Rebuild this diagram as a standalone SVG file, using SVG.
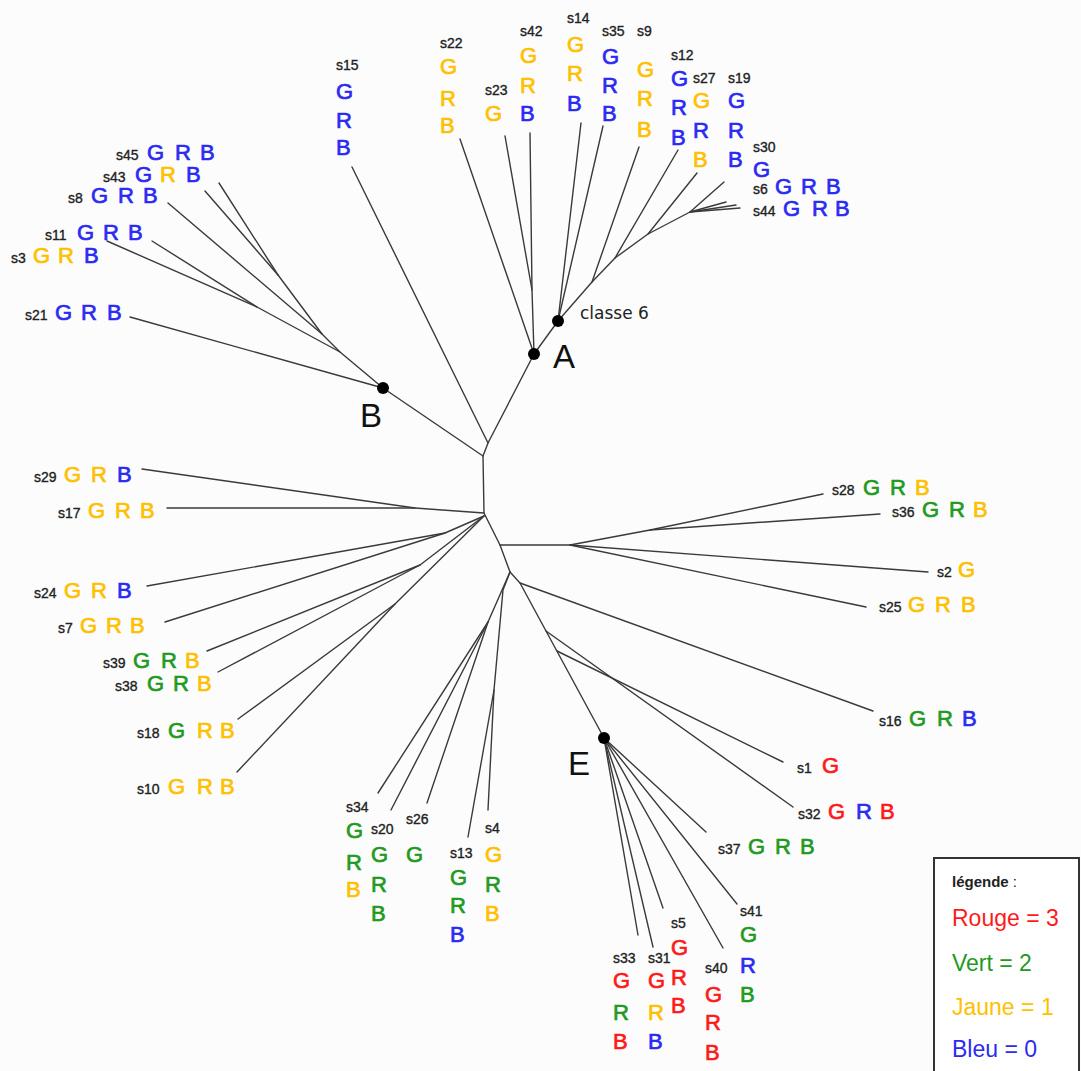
<svg xmlns="http://www.w3.org/2000/svg" width="1081" height="1071" viewBox="0 0 1081 1071">
<style>
.bg{fill:#fcfcfc}
.e{stroke:#3a3a3a;stroke-width:1.4;fill:none;stroke-linecap:round;stroke-linejoin:round}
.s{font-family:"Liberation Sans",Arial,sans-serif;font-size:14px;fill:#222;stroke:#222;stroke-width:0.35}
.L{font-family:"Liberation Sans",Arial,sans-serif;font-size:22px;stroke-width:0.7}
.b{fill:#2a2af2}.y{fill:#ffc000}.g{fill:#1f9a1f}.r{fill:#ff1a1a}
.L .b{stroke:#2a2af2}.L .y{stroke:#ffc000}.L .g{stroke:#1f9a1f}.L .r{stroke:#ff1a1a}
.big{font-family:"Liberation Sans",Arial,sans-serif;font-size:33px;fill:#111}
.dot{fill:#000}
.lg{font-family:"Liberation Sans",Arial,sans-serif;font-size:23px}
</style>
<rect class="bg" x="0" y="0" width="1081" height="1071"/>
<g id="connectors" class="e">
<polyline points="534,354 488,443 483,456 484,513 500,545 510,572 520,583 604,738"/>
<line x1="488" y1="443" x2="352" y2="167"/>
<line x1="483" y1="456" x2="383" y2="388"/>
<line x1="383" y1="388" x2="130" y2="317"/>
<polyline points="383,388 340,352 322,334 168,203"/>
<polyline points="322,334 278,275 205,191"/>
<line x1="278" y1="275" x2="219" y2="183"/>
<polyline points="340,352 257,307 107,241"/>
<line x1="257" y1="307" x2="152" y2="241"/>
<line x1="534" y1="354" x2="460" y2="139"/>
<polyline points="534,354 532,290 505,136"/>
<line x1="532" y1="290" x2="530" y2="133"/>
<line x1="534" y1="354" x2="558" y2="321"/>
<line x1="558" y1="321" x2="581" y2="123"/>
<line x1="558" y1="321" x2="603" y2="126"/>
<polyline points="558,321 592,282 639,147"/>
<polyline points="592,282 615,258 678,150"/>
<polyline points="615,258 648,234 697,173"/>
<polyline points="648,234 690,212 724,182"/>
<line x1="690" y1="212" x2="726" y2="202"/>
<line x1="690" y1="212" x2="736" y2="205"/>
<line x1="690" y1="212" x2="740" y2="208"/>
<polyline points="484,513 415,508 167,508"/>
<line x1="415" y1="508" x2="142" y2="469"/>
<polyline points="484,516 445,533 147,586"/>
<line x1="445" y1="533" x2="165" y2="622"/>
<polyline points="484,516 420,565 207,651"/>
<line x1="420" y1="565" x2="218" y2="672"/>
<polyline points="484,516 395,604 238,719"/>
<line x1="395" y1="604" x2="237" y2="772"/>
<polyline points="500,545 570,545 650,530 823,494"/>
<line x1="650" y1="530" x2="880" y2="514"/>
<line x1="570" y1="545" x2="928" y2="572"/>
<line x1="570" y1="545" x2="866" y2="607"/>
<line x1="520" y1="583" x2="873" y2="711"/>
<polyline points="510,572 488,622 378,793"/>
<line x1="488" y1="622" x2="391" y2="810"/>
<line x1="488" y1="622" x2="427" y2="803"/>
<polyline points="510,572 503,590 494,690 468,837"/>
<line x1="494" y1="690" x2="488" y2="810"/>
<line x1="557" y1="651" x2="783" y2="762"/>
<line x1="546" y1="631" x2="793" y2="807"/>
<line x1="604" y1="738" x2="706" y2="832"/>
<line x1="604" y1="738" x2="737" y2="904"/>
<line x1="604" y1="738" x2="723" y2="948"/>
<line x1="604" y1="738" x2="663" y2="908"/>
<line x1="604" y1="738" x2="653" y2="947"/>
<line x1="604" y1="738" x2="638" y2="935"/>
</g>
<g id="nodeA"><circle class="dot" cx="534" cy="354" r="6"/><text class="big" x="553" y="368">A</text></g>
<g id="nodeC6"><circle class="dot" cx="558" cy="321" r="6"/><text x="580" y="319" style="font-family:'DejaVu Sans',sans-serif;font-size:17px;fill:#222">classe 6</text></g>
<g id="nodeB"><circle class="dot" cx="383" cy="388" r="6"/><text class="big" x="360" y="427">B</text></g>
<g id="nodeE"><circle class="dot" cx="604" cy="738" r="6"/><text class="big" x="568" y="775">E</text></g>

<g id="s45"><text class="s" x="116" y="160">s45</text><text class="L" y="160"><tspan class="b" x="147">G</tspan><tspan class="b" x="175">R</tspan><tspan class="b" x="200">B</tspan></text></g>
<g id="s43"><text class="s" x="103" y="182">s43</text><text class="L" y="182"><tspan class="b" x="135">G</tspan><tspan class="y" x="160">R</tspan><tspan class="b" x="186">B</tspan></text></g>
<g id="s8"><text class="s" x="68" y="203">s8</text><text class="L" y="203"><tspan class="b" x="91">G</tspan><tspan class="b" x="118">R</tspan><tspan class="b" x="143">B</tspan></text></g>
<g id="s11"><text class="s" x="45" y="240">s11</text><text class="L" y="240"><tspan class="b" x="77">G</tspan><tspan class="b" x="103">R</tspan><tspan class="b" x="128">B</tspan></text></g>
<g id="s3"><text class="s" x="11" y="263">s3</text><text class="L" y="263"><tspan class="y" x="33">G</tspan><tspan class="y" x="58">R</tspan><tspan class="b" x="84">B</tspan></text></g>
<g id="s21"><text class="s" x="25" y="320">s21</text><text class="L" y="320"><tspan class="b" x="55">G</tspan><tspan class="b" x="81">R</tspan><tspan class="b" x="107">B</tspan></text></g>
<g id="s6"><text class="s" x="753" y="194">s6</text><text class="L" y="194"><tspan class="b" x="775">G</tspan><tspan class="b" x="801">R</tspan><tspan class="b" x="826">B</tspan></text></g>
<g id="s44"><text class="s" x="753" y="216">s44</text><text class="L" y="216"><tspan class="b" x="783">G</tspan><tspan class="b" x="812">R</tspan><tspan class="b" x="835">B</tspan></text></g>
<g id="s29"><text class="s" x="34" y="482">s29</text><text class="L" y="482"><tspan class="y" x="64">G</tspan><tspan class="y" x="91">R</tspan><tspan class="b" x="117">B</tspan></text></g>
<g id="s17"><text class="s" x="58" y="518">s17</text><text class="L" y="518"><tspan class="y" x="88">G</tspan><tspan class="y" x="115">R</tspan><tspan class="y" x="140">B</tspan></text></g>
<g id="s24"><text class="s" x="34" y="598">s24</text><text class="L" y="598"><tspan class="y" x="64">G</tspan><tspan class="y" x="91">R</tspan><tspan class="b" x="117">B</tspan></text></g>
<g id="s7"><text class="s" x="58" y="633">s7</text><text class="L" y="633"><tspan class="y" x="80">G</tspan><tspan class="y" x="106">R</tspan><tspan class="y" x="130">B</tspan></text></g>
<g id="s39"><text class="s" x="103" y="668">s39</text><text class="L" y="668"><tspan class="g" x="133">G</tspan><tspan class="g" x="161">R</tspan><tspan class="y" x="185">B</tspan></text></g>
<g id="s38"><text class="s" x="115" y="691">s38</text><text class="L" y="691"><tspan class="g" x="147">G</tspan><tspan class="g" x="173">R</tspan><tspan class="y" x="197">B</tspan></text></g>
<g id="s18"><text class="s" x="137" y="738">s18</text><text class="L" y="738"><tspan class="g" x="168">G</tspan><tspan class="y" x="197">R</tspan><tspan class="y" x="220">B</tspan></text></g>
<g id="s10"><text class="s" x="137" y="794">s10</text><text class="L" y="794"><tspan class="y" x="168">G</tspan><tspan class="y" x="197">R</tspan><tspan class="y" x="220">B</tspan></text></g>
<g id="s28"><text class="s" x="832" y="495">s28</text><text class="L" y="495"><tspan class="g" x="863">G</tspan><tspan class="g" x="890">R</tspan><tspan class="y" x="915">B</tspan></text></g>
<g id="s36"><text class="s" x="892" y="517">s36</text><text class="L" y="517"><tspan class="g" x="922">G</tspan><tspan class="g" x="949">R</tspan><tspan class="y" x="973">B</tspan></text></g>
<g id="s2"><text class="s" x="937" y="577">s2</text><text class="L" y="577"><tspan class="y" x="958">G</tspan></text></g>
<g id="s25"><text class="s" x="879" y="612">s25</text><text class="L" y="612"><tspan class="y" x="908">G</tspan><tspan class="y" x="935">R</tspan><tspan class="y" x="961">B</tspan></text></g>
<g id="s16"><text class="s" x="879" y="726">s16</text><text class="L" y="726"><tspan class="g" x="909">G</tspan><tspan class="g" x="937">R</tspan><tspan class="b" x="962">B</tspan></text></g>
<g id="s1"><text class="s" x="797" y="773">s1</text><text class="L" y="773"><tspan class="r" x="822">G</tspan></text></g>
<g id="s32"><text class="s" x="798" y="819">s32</text><text class="L" y="819"><tspan class="r" x="828">G</tspan><tspan class="b" x="856">R</tspan><tspan class="r" x="880">B</tspan></text></g>
<g id="s37"><text class="s" x="718" y="854">s37</text><text class="L" y="854"><tspan class="g" x="748">G</tspan><tspan class="g" x="775">R</tspan><tspan class="g" x="800">B</tspan></text></g>

<g id="s15"><text class="s" x="336" y="70">s15</text><text class="L"><tspan class="b" x="336" y="99">G</tspan><tspan class="b" x="336" y="128">R</tspan><tspan class="b" x="336" y="155">B</tspan></text></g>
<g id="s22"><text class="s" x="440" y="48">s22</text><text class="L"><tspan class="y" x="440" y="74">G</tspan><tspan class="y" x="440" y="106">R</tspan><tspan class="y" x="440" y="133">B</tspan></text></g>
<g id="s23"><text class="s" x="485" y="95">s23</text><text class="L"><tspan class="y" x="485" y="121">G</tspan></text></g>
<g id="s42"><text class="s" x="520" y="36">s42</text><text class="L"><tspan class="y" x="520" y="63">G</tspan><tspan class="y" x="520" y="93">R</tspan><tspan class="b" x="520" y="121">B</tspan></text></g>
<g id="s14"><text class="s" x="567" y="23">s14</text><text class="L"><tspan class="y" x="567" y="52">G</tspan><tspan class="y" x="567" y="81">R</tspan><tspan class="b" x="567" y="111">B</tspan></text></g>
<g id="s35"><text class="s" x="602" y="36">s35</text><text class="L"><tspan class="b" x="602" y="64">G</tspan><tspan class="b" x="602" y="93">R</tspan><tspan class="b" x="602" y="121">B</tspan></text></g>
<g id="s9"><text class="s" x="637" y="36">s9</text><text class="L"><tspan class="y" x="637" y="77">G</tspan><tspan class="y" x="637" y="106">R</tspan><tspan class="y" x="637" y="137">B</tspan></text></g>
<g id="s12"><text class="s" x="671" y="60">s12</text><text class="L"><tspan class="b" x="671" y="86">G</tspan><tspan class="b" x="671" y="115">R</tspan><tspan class="b" x="671" y="145">B</tspan></text></g>
<g id="s27"><text class="s" x="693" y="83">s27</text><text class="L"><tspan class="y" x="693" y="108">G</tspan><tspan class="b" x="693" y="138">R</tspan><tspan class="y" x="693" y="167">B</tspan></text></g>
<g id="s19"><text class="s" x="728" y="83">s19</text><text class="L"><tspan class="b" x="728" y="108">G</tspan><tspan class="b" x="728" y="138">R</tspan><tspan class="b" x="728" y="167">B</tspan></text></g>
<g id="s30"><text class="s" x="753" y="152">s30</text><text class="L"><tspan class="b" x="753" y="177">G</tspan></text></g>
<g id="s34"><text class="s" x="346" y="812">s34</text><text class="L"><tspan class="g" x="346" y="838">G</tspan><tspan class="g" x="346" y="870">R</tspan><tspan class="y" x="346" y="897">B</tspan></text></g>
<g id="s20"><text class="s" x="371" y="834">s20</text><text class="L"><tspan class="g" x="371" y="862">G</tspan><tspan class="g" x="371" y="892">R</tspan><tspan class="g" x="371" y="921">B</tspan></text></g>
<g id="s26"><text class="s" x="406" y="824">s26</text><text class="L"><tspan class="g" x="406" y="862">G</tspan></text></g>
<g id="s13"><text class="s" x="450" y="858">s13</text><text class="L"><tspan class="g" x="450" y="885">G</tspan><tspan class="g" x="450" y="913">R</tspan><tspan class="b" x="450" y="942">B</tspan></text></g>
<g id="s4"><text class="s" x="485" y="833">s4</text><text class="L"><tspan class="y" x="485" y="862">G</tspan><tspan class="g" x="485" y="892">R</tspan><tspan class="y" x="485" y="921">B</tspan></text></g>
<g id="s33"><text class="s" x="613" y="963">s33</text><text class="L"><tspan class="r" x="613" y="988">G</tspan><tspan class="g" x="613" y="1020">R</tspan><tspan class="r" x="613" y="1049">B</tspan></text></g>
<g id="s31"><text class="s" x="648" y="963">s31</text><text class="L"><tspan class="r" x="648" y="988">G</tspan><tspan class="y" x="648" y="1020">R</tspan><tspan class="b" x="648" y="1049">B</tspan></text></g>
<g id="s5"><text class="s" x="671" y="928">s5</text><text class="L"><tspan class="r" x="671" y="955">G</tspan><tspan class="r" x="671" y="985">R</tspan><tspan class="r" x="671" y="1013">B</tspan></text></g>
<g id="s40"><text class="s" x="705" y="973">s40</text><text class="L"><tspan class="r" x="705" y="1002">G</tspan><tspan class="r" x="705" y="1030">R</tspan><tspan class="r" x="705" y="1060">B</tspan></text></g>
<g id="s41"><text class="s" x="740" y="916">s41</text><text class="L"><tspan class="g" x="740" y="942">G</tspan><tspan class="b" x="740" y="973">R</tspan><tspan class="g" x="740" y="1002">B</tspan></text></g>

<g id="legend">
<rect x="934" y="858" width="145" height="230" fill="#fff" stroke="#333" stroke-width="2"/>
<text x="952" y="887" style="font-family:'Liberation Sans',Arial,sans-serif;font-size:15px;fill:#222"><tspan font-weight="bold">légende</tspan> :</text>
<text class="lg r" x="952" y="926">Rouge = 3</text>
<text class="lg g" x="952" y="971">Vert = 2</text>
<text class="lg y" x="952" y="1015">Jaune = 1</text>
<text class="lg b" x="952" y="1057">Bleu = 0</text>
</g>
</svg>
